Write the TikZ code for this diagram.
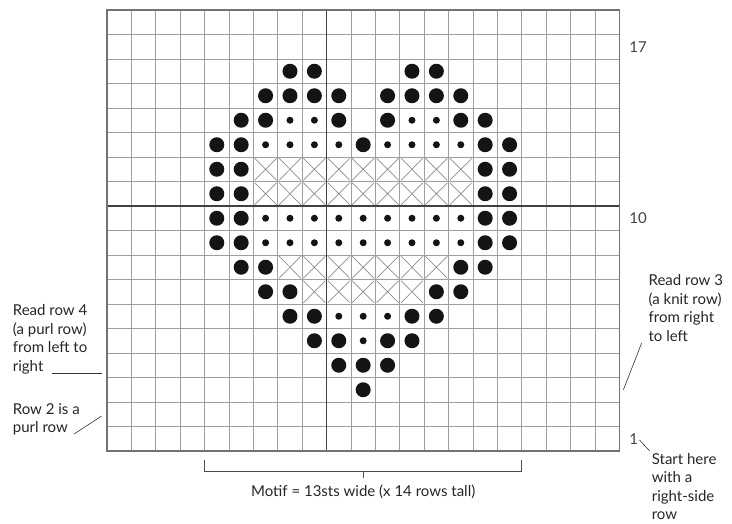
\documentclass[tikz,border=0pt]{standalone}
\usepackage{fontspec}
\setmainfont{Lato}
\usetikzlibrary{positioning}

\begin{document}
\begin{tikzpicture}[
	x=24.4pt, y=-24.5pt,
	gridline/.style={draw=black!38, line width=0.9pt},
	gridframe/.style={draw=black!55, line width=1.3pt},
	centreline/.style={draw=black!75, line width=1.3pt},
	cross/.style={draw=black!45, line width=0.7pt},
	note/.style={font=\fontsize{15}{18.5}\selectfont, align=left, inner sep=0pt, text=black!85},
	rowno/.style={font=\fontsize{15}{18}\selectfont, inner sep=0pt, text=black!75},
	leader/.style={draw=black!80, line width=0.6pt},
	bracket/.style={draw=black!70, line width=0.8pt},
]
	\useasboundingbox (-4.385,-0.408) rectangle (25.615,20.939);

	% Chart grid, 21 sts x 18 rows
	\foreach \c in {1,...,20} {
		\draw[gridline] (\c,0) -- (\c,18);
	}
	\foreach \r in {1,...,17} {
		\draw[gridline] (0,\r) -- (21,\r);
	}
	\draw[centreline] (9,0) -- (9,18);
	\draw[centreline] (0,8) -- (21,8);
	\draw[gridframe] (0,0) rectangle (21,18);

	% Large dots
	\foreach \r/\cols in {2/{7,8,12,13}, 3/{6,7,8,9,11,12,13,14}, 4/{5,6,9,11,14,15},
		5/{4,5,10,15,16}, 6/{4,5,15,16}, 7/{4,5,15,16}, 8/{4,5,15,16}, 9/{4,5,15,16},
		10/{5,6,14,15}, 11/{6,7,13,14}, 12/{7,8,12,13}, 13/{8,9,11,12}, 14/{9,10,11}, 15/{10}} {
		\foreach \c in \cols {
			\fill[black!92] (\c+0.5,\r+0.5) circle[radius=7.5pt];
		}
	}

	% Small dots
	\foreach \r/\cols in {4/{7,8,12,13}, 5/{6,7,8,9,11,12,13,14}, 8/{6,...,14}, 9/{6,...,14},
		12/{9,10,11}, 13/{10}} {
		\foreach \c in \cols {
			\fill[black!92] (\c+0.5,\r+0.5) circle[radius=3.5pt];
		}
	}

	% Crosses
	\foreach \r/\cols in {6/{6,...,14}, 7/{6,...,14}, 10/{7,...,13}, 11/{8,...,12}} {
		\foreach \c in \cols {
			\draw[cross] (\c+0.05,\r+0.05) -- (\c+0.95,\r+0.95)
				(\c+0.05,\r+0.95) -- (\c+0.95,\r+0.05);
		}
	}

	% Row numbers
	\node[rowno, anchor=west] (row17) at (21.4,1.5) {17};
	\node[rowno, anchor=west] (row10) at (21.4,8.5) {10};
	\node[rowno, anchor=west] (row1) at (21.4,17.5) {1};

	% Notes on the left
	\node[note, anchor=north west] (read4) at (-3.865,12.03) {Read row 4\\(a purl row)\\from left to\\right};
	\coordinate (read4tip) at (-0.22,14.83);
	\draw[leader] (read4tip) -- ++(-2.05,0);

	\node[note, anchor=north west] (row2) at (-3.865,16.04) {Row 2 is a\\purl row};
	\coordinate (row2tail) at (-1.352,17.31);
	\coordinate (row2tip) at (-0.22,16.57);
	\draw[leader] (row2tail) -- (row2tip);

	% Notes on the right
	\node[note, anchor=north west] (read3) at (22.19,10.8) {Read row 3\\(a knit row)\\from right\\to left};
	\coordinate (read3tail) at (21.91,13.6);
	\coordinate (read3tip) at (21.16,15.51);
	\draw[leader] (read3tail) -- (read3tip);

	\node[note, anchor=north west] (start) at (22.32,18.08) {Start here\\with a\\right-side\\row};
	\draw[leader, shorten <=2pt, shorten >=3pt] (row1.east) -- (start.north west);

	% Motif bracket
	\coordinate (motifL) at (4,18.37);
	\coordinate (motifR) at (17,18.37);
	\coordinate (motifmid) at (10.5,18.84);
	\draw[bracket] (motifL) |- (motifmid) -| (motifR);
	\draw[bracket] (motifmid) -- ++(0,0.26) coordinate (motiftick);
	\node[note, below=7pt of motiftick] (motif) {Motif = 13sts wide (x 14 rows tall)};
\end{tikzpicture}
\end{document}
